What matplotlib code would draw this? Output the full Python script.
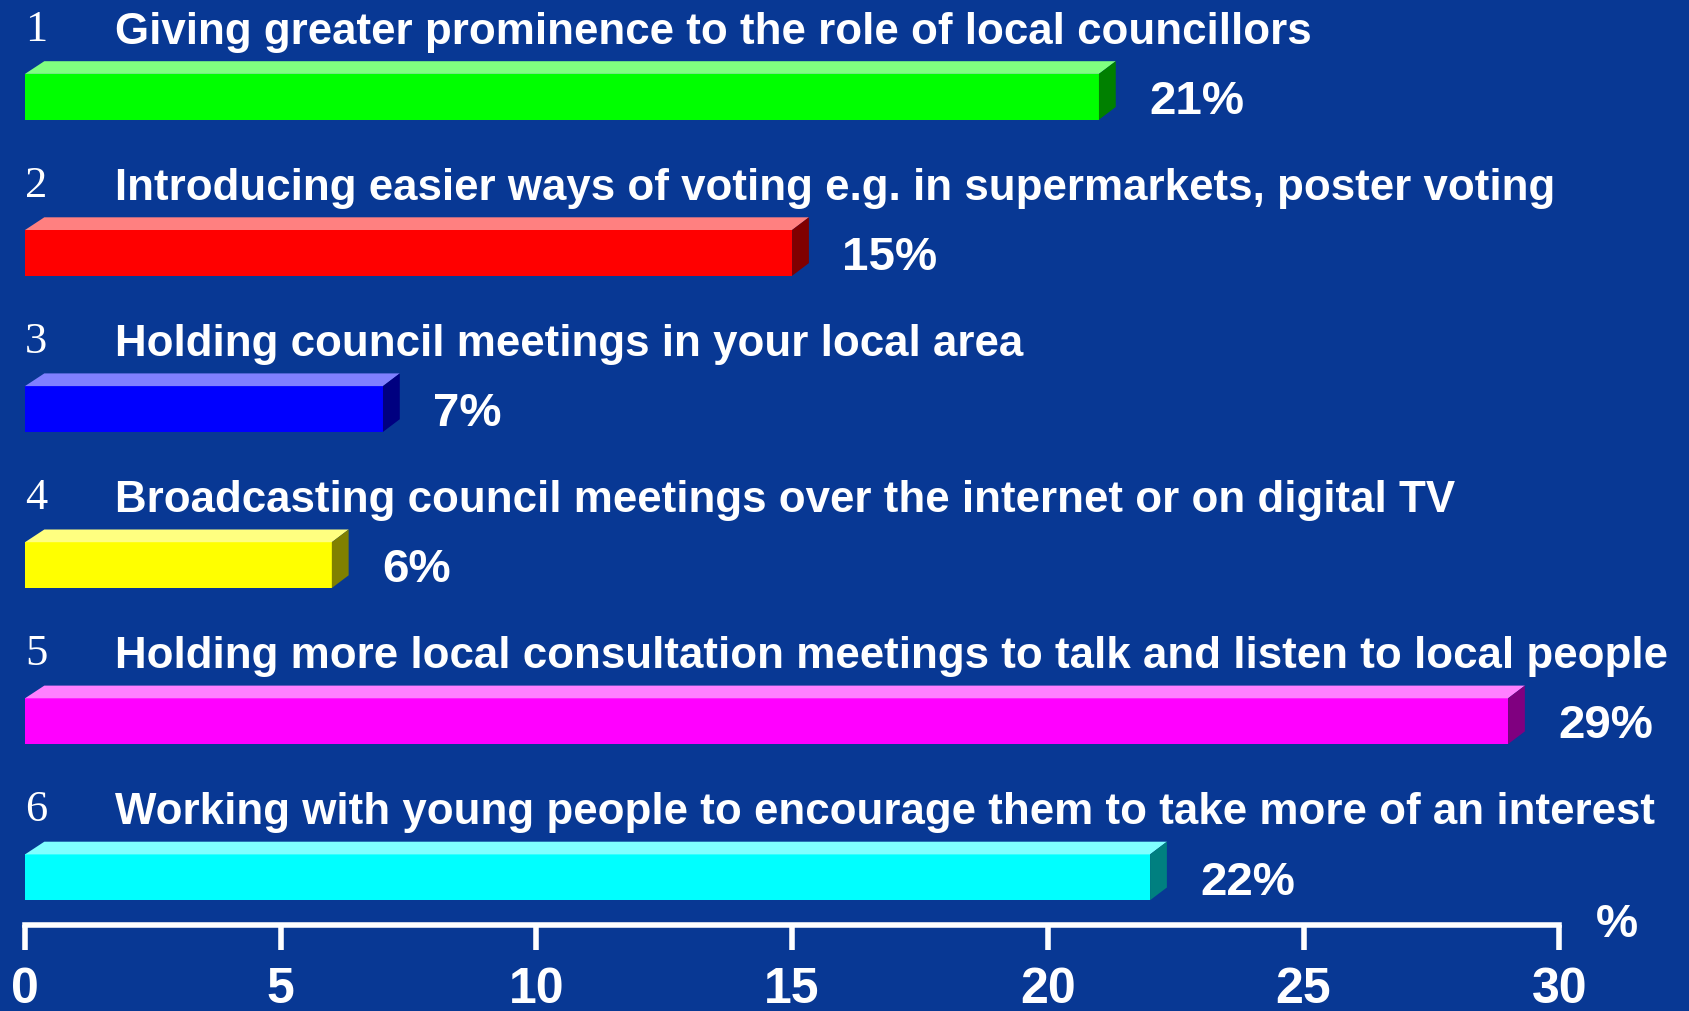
import matplotlib
matplotlib.use("Agg")
import matplotlib.pyplot as plt
from matplotlib.patches import Polygon

numbers = ["1", "2", "3", "4", "5", "6"]
labels = [
    "Giving greater prominence to the role of local councillors",
    "Introducing easier ways of voting e.g. in supermarkets, poster voting",
    "Holding council meetings in your local area",
    "Broadcasting council meetings over the internet or on digital TV",
    "Holding more local consultation meetings to talk and listen to local people",
    "Working with young people to encourage them to take more of an interest",
]
values = [21, 15, 7, 6, 29, 22]
front_colors = ["#00FF00", "#FF0000", "#0000FF", "#FFFF00", "#FF00FF", "#00FFFF"]
top_colors = ["#80FF80", "#FF8080", "#8080FF", "#FFFF80", "#FF80FF", "#80FFFF"]
side_colors = ["#008000", "#800000", "#000080", "#808000", "#800080", "#008080"]
ticks = [0, 5, 10, 15, 20, 25, 30]

BG = "#083894"
W, H = 1689, 1012
fig = plt.figure(figsize=(W / 100, H / 100), dpi=100, facecolor=BG)
ax = fig.add_axes([0, 0, 1, 1], facecolor=BG)

px_x = 51.14      # pixels per percent unit
px_y = 156.1      # pixels per row
x0_px = 25.0
y0_px = 97.8
ax.set_xlim(-x0_px / px_x, (W - x0_px) / px_x)
ax.set_ylim((H - y0_px) / px_y, -y0_px / px_y)

bar_h = 45.8 / px_y
dx = 16.8 / px_x
dy = 12.7 / px_y

for i, v in enumerate(values):
    ax.barh(i, v, height=bar_h, left=0, color=front_colors[i], linewidth=0, zorder=3)
    top = i - bar_h / 2
    bot = i + bar_h / 2
    ax.add_patch(Polygon([(0, top), (v, top), (v + dx, top - dy), (dx * 1.15, top - dy)],
                         closed=True, facecolor=top_colors[i], edgecolor="none", zorder=3))
    ax.add_patch(Polygon([(v, top), (v + dx, top - dy), (v + dx, bot - dy), (v, bot)],
                         closed=True, facecolor=side_colors[i], edgecolor="none", zorder=3))
    ax.text(0.0, i - 0.367, numbers[i], color="white", fontsize=32,
            family="Liberation Serif", ha="left", va="baseline")
    ax.text(1.76, i - 0.345, labels[i], color="white", fontsize=31.6,
            family="Liberation Sans", weight="bold", ha="left", va="baseline")
    ax.text(v + 0.98, i + 0.104, f"{v}%", color="white", fontsize=34.2,
            family="Liberation Sans", weight="bold", ha="left", va="baseline")

axis_y = (925.5 - y0_px) / px_y
for s in ["top", "left", "right"]:
    ax.spines[s].set_visible(False)
sp = ax.spines["bottom"]
sp.set_position(("data", axis_y))
sp.set_bounds(0, 30)
sp.set_color("white")
sp.set_linewidth(4.0)
sp.set_capstyle("projecting")
ax.set_xticks(ticks)
ax.set_xticklabels([str(t) for t in ticks])
ax.tick_params(axis="x", direction="out", length=18, width=4, color="white",
               labelcolor="white", labelsize=36, pad=12)
for lab in ax.get_xticklabels():
    lab.set_family("Liberation Sans")
    lab.set_weight("bold")
ax.set_yticks([])
ax.text(30.72, axis_y, "%", color="white", fontsize=34.2, family="Liberation Sans",
        weight="bold", ha="left", va="center")

fig.savefig("out.png", dpi=100, facecolor=BG)
